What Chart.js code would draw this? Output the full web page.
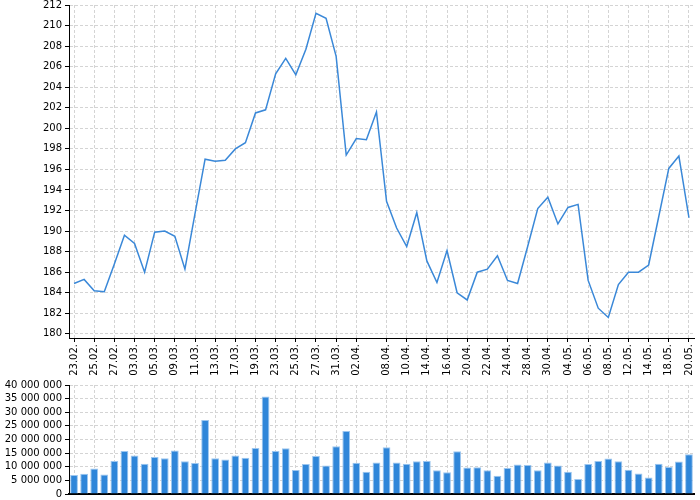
<!DOCTYPE html>
<html>
<head>
<meta charset="utf-8">
<script src="https://cdn.jsdelivr.net/npm/chart.js@4/dist/chart.umd.min.js"></script>
<style>
  body { margin: 0; background: #fff; }
  canvas { position: absolute; left: 0; }
  #price { top: 0; }
  #volume { top: 380px; }
</style>
</head>
<body>
<canvas id="price" width="700" height="380"></canvas>
<canvas id="volume" width="700" height="120"></canvas>
<script>
// trading days (only some of them get a label on the axis)
const dates = [
  '23.02.', '24.02.', '25.02.', '26.02.', '27.02.', '02.03.', '03.03.', '04.03.', '05.03.', '06.03.',
  '09.03.', '10.03.', '11.03.', '12.03.', '13.03.', '16.03.', '17.03.', '18.03.', '19.03.', '20.03.',
  '23.03.', '24.03.', '25.03.', '26.03.', '27.03.', '30.03.', '31.03.', '01.04.', '02.04.', '03.04.',
  '07.04.', '08.04.', '09.04.', '10.04.', '13.04.', '14.04.', '15.04.', '16.04.', '17.04.', '20.04.',
  '21.04.', '22.04.', '23.04.', '24.04.', '27.04.', '28.04.', '29.04.', '30.04.', '01.05.', '04.05.',
  '05.05.', '06.05.', '07.05.', '08.05.', '11.05.', '12.05.', '13.05.', '14.05.', '15.05.', '18.05.',
  '19.05.', '20.05.'
];
const shownDates = [
  '23.02.', '25.02.', '27.02.', '03.03.', '05.03.', '09.03.', '11.03.', '13.03.', '17.03.', '19.03.',
  '23.03.', '25.03.', '27.03.', '31.03.', '02.04.', '08.04.', '10.04.', '14.04.', '16.04.', '20.04.',
  '22.04.', '24.04.', '28.04.', '30.04.', '04.05.', '06.05.', '08.05.', '12.05.', '14.05.', '18.05.',
  '20.05.'
];
const prices = [
  184.9, 185.3, 184.2, 184.1, 186.8, 189.6, 188.8, 186.0, 189.9, 190.0,
  189.5, 186.3, 191.7, 197.0, 196.8, 196.9, 198.0, 198.6, 201.5, 201.8,
  205.3, 206.8, 205.2, 207.7, 211.2, 210.7, 207.0, 197.4, 199.0, 198.9,
  201.6, 192.9, 190.3, 188.5, 191.8, 187.1, 185.0, 188.1, 184.0, 183.3,
  186.0, 186.3, 187.6, 185.2, 184.9, 188.5, 192.2, 193.3, 190.7, 192.3,
  192.6, 185.2, 182.5, 181.6, 184.8, 186.0, 186.0, 186.7, 191.4, 196.1,
  197.3, 191.3
];
const volumes = [
  7.0, 7.4, 9.4, 7.2, 12.1, 15.8, 14.1, 11.1, 13.6, 13.1,
  16.0, 12.0, 11.4, 27.2, 13.1, 12.7, 14.1, 13.3, 16.9, 35.8,
  15.8, 16.8, 8.8, 11.0, 13.9, 10.5, 17.5, 23.1, 11.5, 8.2,
  11.6, 17.2, 11.6, 11.1, 12.0, 12.1, 8.7, 8.0, 15.7, 9.7,
  9.8, 8.7, 6.7, 9.5, 10.8, 10.6, 8.7, 11.6, 10.5, 8.2,
  5.5, 11.0, 12.1, 13.0, 12.0, 8.9, 7.5, 6.1, 11.1, 9.9,
  11.9, 14.6
].map(v => v * 1000000);
const priceTicks = [180, 182, 184, 186, 188, 190, 192, 194, 196, 198, 200, 202, 204, 206, 208, 210, 212];
const volumeTicks = [0, 5000000, 10000000, 15000000, 20000000, 25000000, 30000000, 35000000, 40000000];

Chart.defaults.font.family = 'DejaVu Sans';
Chart.defaults.font.size = 10;
Chart.defaults.color = '#000';

const gridColor = '#d4d4d4';
const blue = '#3a88d8';

function xAxis(withLabels) {
  return {
    type: 'category',
    offset: true,
    afterBuildTicks: function (scale) {
      scale.ticks = scale.ticks.filter(t => shownDates.includes(dates[t.value]));
    },
    afterFit: function (scale) {
      scale.height = withLabels ? 42 : 6;
      scale.paddingLeft = 0;
      scale.paddingRight = 0;
    },
    grid: { offset: false, color: gridColor, tickColor: '#000', tickLength: 4, drawTicks: withLabels },
    border: { color: '#000', dash: [3, 2], width: withLabels ? 1 : 2 },
    ticks: { display: withLabels, autoSkip: false, maxRotation: 90, minRotation: 90, padding: 2 }
  };
}

function yAxis(tickList, min, max, fmt) {
  return {
    min: min,
    max: max,
    afterBuildTicks: function (scale) {
      scale.ticks = tickList.map(v => ({ value: v }));
    },
    afterFit: function (scale) {
      scale.width = 69;
      scale.paddingTop = 0;
      scale.paddingBottom = 0;
    },
    grid: { color: gridColor, tickColor: '#000', tickLength: 4 },
    border: { color: '#000', dash: [3, 2] },
    ticks: { padding: 3, autoSkip: false, callback: fmt }
  };
}

new Chart(document.getElementById('price'), {
  type: 'line',
  data: {
    labels: dates,
    datasets: [{
      data: prices,
      borderColor: blue,
      borderWidth: 1.5,
      pointRadius: 0,
      tension: 0,
      fill: false
    }]
  },
  options: {
    responsive: false,
    animation: false,
    layout: { padding: { top: 5, right: 6, left: 0, bottom: 0 } },
    plugins: { legend: { display: false }, tooltip: { enabled: false } },
    scales: {
      x: xAxis(true),
      y: yAxis(priceTicks, 179.6, 212, v => String(v))
    }
  }
});

new Chart(document.getElementById('volume'), {
  type: 'bar',
  data: {
    labels: dates,
    datasets: [{
      data: volumes,
      backgroundColor: '#2f86d9',
      borderColor: '#9cc6ef',
      borderWidth: 1,
      barPercentage: 0.77,
      categoryPercentage: 1
    }]
  },
  options: {
    responsive: false,
    animation: false,
    layout: { padding: { top: 5, right: 6, left: 0, bottom: 0 } },
    plugins: { legend: { display: false }, tooltip: { enabled: false } },
    scales: {
      x: xAxis(false),
      y: yAxis(volumeTicks, 0, 40000000, v => String(v).replace(/\B(?=(\d{3})+(?!\d))/g, ' '))
    }
  }
});
</script>
</body>
</html>
